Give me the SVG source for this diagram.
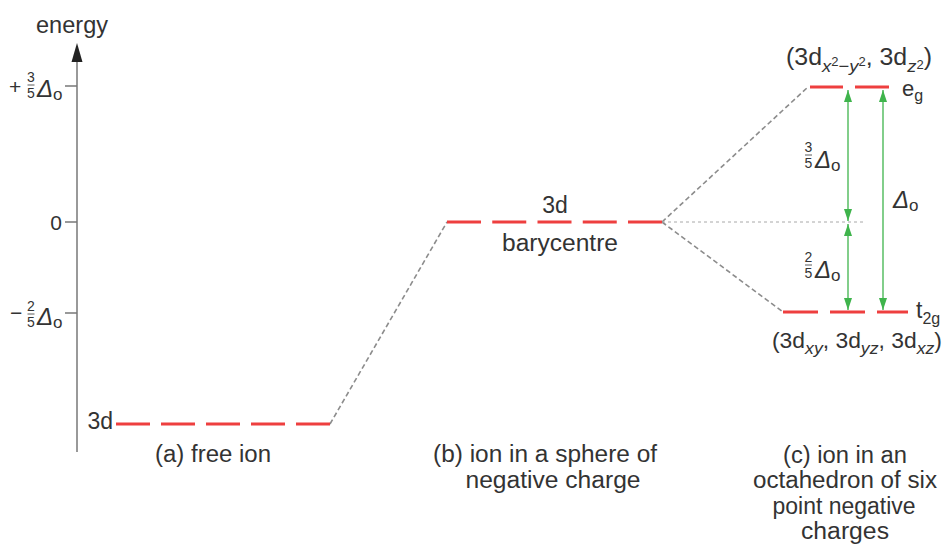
<svg xmlns="http://www.w3.org/2000/svg" width="945" height="547" viewBox="0 0 945 547">
<style>
text{font-family:"Liberation Sans",Arial,Helvetica,sans-serif;fill:#333;}
.lbl{font-size:23px;}
.it{font-style:italic;}
.frac{font-size:14px;text-anchor:middle;}
.red{stroke:#ee3f3f;stroke-width:3;fill:none;}
.gdash{stroke:#8c8c8c;stroke-width:1.6;stroke-dasharray:5 3;fill:none;}
.thin{stroke:#a8a8a8;stroke-width:1;stroke-dasharray:3 3;fill:none;}
.grn{stroke:#3fb44c;stroke-width:1.3;fill:none;marker-start:url(#ah);marker-end:url(#ah);}
.axis{stroke:#777;stroke-width:1.5;fill:none;}
.bar{stroke:#333;stroke-width:0.8;}
</style>
<defs>
<marker id="ah" viewBox="0 0 12 8" refX="12" refY="4" markerWidth="12" markerHeight="8" markerUnits="userSpaceOnUse" orient="auto-start-reverse">
<path d="M0,0 L12,4 L0,8 z" fill="#3fb44c"/>
</marker>
</defs>
<rect width="945" height="547" fill="#fff"/>

<g id="axis">
<line class="axis" x1="77" y1="58" x2="77" y2="452"/>
<polygon points="77,43 71.5,62 82.5,62" fill="#222"/>
<line class="axis" x1="65" y1="86" x2="77" y2="86"/>
<line class="axis" x1="65" y1="222" x2="77" y2="222"/>
<line class="axis" x1="65" y1="313" x2="77" y2="313"/>
<text class="lbl" x="36" y="33" textLength="72" lengthAdjust="spacingAndGlyphs">energy</text>
<g id="tick-plus">
<text x="9" y="94" font-size="21">+</text>
<text class="frac" x="31" y="82">3</text>
<line class="bar" x1="27.5" y1="85" x2="34.5" y2="85"/>
<text class="frac" x="31" y="98">5</text>
<text x="37" y="97" font-size="24"><tspan class="it">Δ</tspan><tspan font-size="17" dy="3">o</tspan></text>
</g>
<text x="62" y="230" font-size="21" text-anchor="end">0</text>
<g id="tick-minus">
<text x="10" y="320" font-size="21">−</text>
<text class="frac" x="31" y="311">2</text>
<line class="bar" x1="27.5" y1="314" x2="34.5" y2="314"/>
<text class="frac" x="31" y="327">5</text>
<text x="37" y="325" font-size="24"><tspan class="it">Δ</tspan><tspan font-size="17" dy="3">o</tspan></text>
</g>
</g>

<g id="connectors">
<line class="gdash" x1="330" y1="424" x2="447" y2="222"/>
<line class="gdash" x1="662" y1="222" x2="808" y2="87"/>
<line class="gdash" x1="662" y1="222" x2="783" y2="312"/>
<line class="thin" x1="662" y1="222" x2="864" y2="222"/>
<line class="grn" x1="848" y1="221" x2="848" y2="90"/>
<line class="grn" x1="848" y1="224" x2="848" y2="310"/>
<line class="grn" x1="883" y1="90" x2="883" y2="310"/>
</g>

<g id="free-ion">
<line class="red" x1="116" y1="424" x2="330" y2="424" stroke-dasharray="34 11"/>
<text class="lbl" x="113" y="429" text-anchor="end">3d</text>
<text class="lbl" x="213" y="462" text-anchor="middle" textLength="116" lengthAdjust="spacingAndGlyphs">(a) free ion</text>
</g>

<g id="barycentre">
<line class="red" x1="447" y1="222" x2="662" y2="222" stroke-dasharray="34 11.25"/>
<text class="lbl" x="555" y="213" text-anchor="middle">3d</text>
<text class="lbl" x="560" y="251" text-anchor="middle" textLength="116" lengthAdjust="spacingAndGlyphs">barycentre</text>
<text class="lbl" x="545" y="462" text-anchor="middle" textLength="224" lengthAdjust="spacingAndGlyphs">(b) ion in a sphere of</text>
<text class="lbl" x="553" y="488" text-anchor="middle" textLength="175" lengthAdjust="spacingAndGlyphs">negative charge</text>
</g>

<g id="eg">
<line class="red" x1="810" y1="87" x2="843" y2="87"/>
<line class="red" x1="855" y1="87" x2="889" y2="87"/>
<text x="902" y="96" font-size="22">e<tspan font-size="16" dy="5">g</tspan></text>
<text x="786" y="65" font-size="23" textLength="146" lengthAdjust="spacingAndGlyphs">(3d<tspan class="it" font-size="17" y="72">x</tspan><tspan font-size="12" y="66">2</tspan><tspan font-size="17" y="72">−</tspan><tspan class="it" font-size="17" y="72">y</tspan><tspan font-size="12" y="66">2</tspan><tspan y="65">, 3d</tspan><tspan class="it" font-size="17" y="72">z</tspan><tspan font-size="12" y="69">2</tspan><tspan y="65">)</tspan></text>
</g>

<g id="t2g">
<line class="red" x1="783" y1="312" x2="818" y2="312"/>
<line class="red" x1="830" y1="312" x2="865" y2="312"/>
<line class="red" x1="877" y1="312" x2="908" y2="312"/>
<text x="916" y="318" font-size="23">t<tspan font-size="16" dy="6">2g</tspan></text>
<text x="772" y="348" font-size="22" textLength="170" lengthAdjust="spacingAndGlyphs">(3d<tspan class="it" font-size="17" y="354">xy</tspan><tspan y="348">, 3d</tspan><tspan class="it" font-size="17" y="354">yz</tspan><tspan y="348">, 3d</tspan><tspan class="it" font-size="17" y="354">xz</tspan><tspan y="348">)</tspan></text>
</g>

<g id="splitting-labels">
<g id="three-fifths">
<text class="frac" x="808.5" y="152">3</text>
<line class="bar" x1="805" y1="155" x2="812" y2="155"/>
<text class="frac" x="808.5" y="168">5</text>
<text x="815" y="168" font-size="24"><tspan class="it">Δ</tspan><tspan font-size="17" dy="3">o</tspan></text>
</g>
<g id="two-fifths">
<text class="frac" x="808.5" y="262">2</text>
<line class="bar" x1="805" y1="265" x2="812" y2="265"/>
<text class="frac" x="808.5" y="278">5</text>
<text x="815" y="278" font-size="24"><tspan class="it">Δ</tspan><tspan font-size="17" dy="3">o</tspan></text>
</g>
<text x="893" y="208" font-size="24"><tspan class="it">Δ</tspan><tspan font-size="17" dy="3">o</tspan></text>
</g>

<g id="octahedron-caption">
<text class="lbl" x="845" y="463" text-anchor="middle" textLength="124" lengthAdjust="spacingAndGlyphs">(c) ion in an</text>
<text class="lbl" x="845" y="488" text-anchor="middle" textLength="184" lengthAdjust="spacingAndGlyphs">octahedron of six</text>
<text class="lbl" x="844" y="514" text-anchor="middle" textLength="143" lengthAdjust="spacingAndGlyphs">point negative</text>
<text class="lbl" x="845" y="539" text-anchor="middle" textLength="88" lengthAdjust="spacingAndGlyphs">charges</text>
</g>
</svg>
